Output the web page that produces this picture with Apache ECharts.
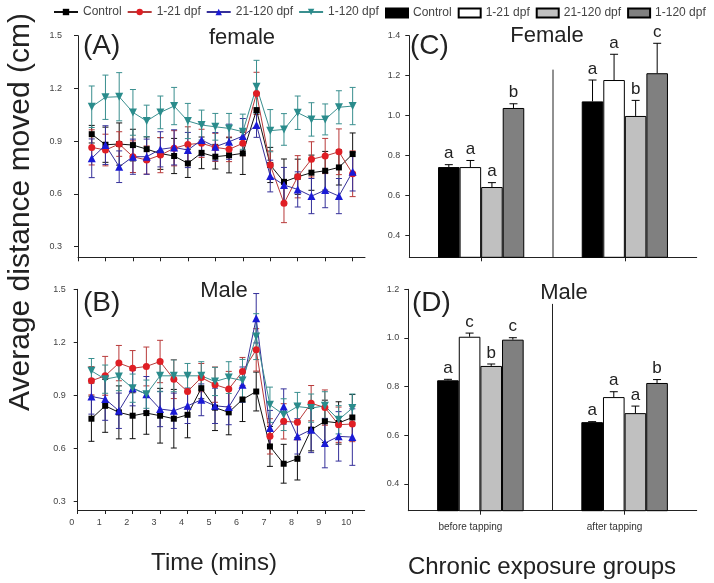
<!DOCTYPE html>
<html><head><meta charset="utf-8">
<script src="https://cdn.jsdelivr.net/npm/echarts@6/dist/echarts.min.js"></script>
<style>html,body{margin:0;padding:0;background:#fff}#c{width:714px;height:583px}</style>
</head><body><div id="c"></div>
<script>
// ---------- DATA ----------
const times = [0.5, 1, 1.5, 2, 2.5, 3, 3.5, 4, 4.5, 5, 5.5, 6, 6.5, 7, 7.5, 8, 8.5, 9, 9.5, 10];
const timeTicks = [0, 1, 2, 3, 4, 5, 6, 7, 8, 9, 10];

// Panel A (female)
const ctrlF    = [0.94, 0.88, 0.884, 0.878, 0.855, 0.83, 0.816, 0.774, 0.834, 0.812, 0.82, 0.831, 1.077, 0.765, 0.669, 0.698, 0.721, 0.732, 0.751, 0.827];
const ctrlFErr = [0.05, 0.10, 0.12, 0.09, 0.07, 0.09, 0.10, 0.08, 0.09, 0.07, 0.10, 0.12, 0.10, 0.10, 0.13, 0.10, 0.10, 0.11, 0.10, 0.12];
const redF     = [0.865, 0.85, 0.884, 0.812, 0.793, 0.821, 0.86, 0.882, 0.888, 0.865, 0.854, 0.888, 1.172, 0.765, 0.547, 0.698, 0.797, 0.816, 0.84, 0.715];
const redFErr  = [0.10, 0.09, 0.07, 0.09, 0.08, 0.10, 0.10, 0.10, 0.08, 0.08, 0.07, 0.07, 0.12, 0.08, 0.11, 0.12, 0.10, 0.10, 0.13, 0.13];
const blueF    = [0.803, 0.878, 0.755, 0.812, 0.812, 0.854, 0.865, 0.85, 0.907, 0.869, 0.897, 0.929, 0.992, 0.702, 0.651, 0.626, 0.588, 0.622, 0.588, 0.727];
const blueFErr = [0.11, 0.11, 0.09, 0.10, 0.10, 0.10, 0.10, 0.10, 0.09, 0.08, 0.10, 0.10, 0.07, 0.09, 0.10, 0.10, 0.10, 0.10, 0.10, 0.11];
const tealF    = [1.096, 1.15, 1.153, 1.064, 1.015, 1.064, 1.1, 1.015, 0.992, 0.982, 0.973, 0.954, 1.21, 0.96, 0.967, 1.062, 1.024, 1.024, 1.093, 1.1];
const tealFErr = [0.118, 0.126, 0.137, 0.13, 0.09, 0.093, 0.106, 0.10, 0.085, 0.076, 0.085, 0.10, 0.15, 0.12, 0.09, 0.095, 0.095, 0.088, 0.094, 0.106];

// Panel B (male)
const ctrlM    = [0.767, 0.84, 0.803, 0.784, 0.799, 0.784, 0.767, 0.789, 0.94, 0.83, 0.803, 0.876, 0.921, 0.61, 0.512, 0.54, 0.705, 0.752, 0.743, 0.774];
const ctrlMErr = [0.128, 0.15, 0.15, 0.13, 0.12, 0.155, 0.166, 0.13, 0.06, 0.13, 0.127, 0.125, 0.11, 0.113, 0.11, 0.12, 0.12, 0.12, 0.12, 0.13];
const redM     = [0.982, 1.01, 1.082, 1.053, 1.063, 1.091, 0.991, 0.921, 1.0, 0.96, 0.935, 1.034, 1.157, 0.667, 0.752, 0.747, 0.855, 0.83, 0.733, 0.737];
const redMErr  = [0.08, 0.11, 0.10, 0.10, 0.11, 0.12, 0.11, 0.10, 0.08, 0.10, 0.10, 0.08, 0.12, 0.10, 0.10, 0.10, 0.10, 0.10, 0.10, 0.10];
const blueM    = [0.893, 0.878, 0.812, 0.94, 0.906, 0.822, 0.812, 0.84, 0.874, 0.84, 0.833, 0.96, 1.336, 0.714, 0.836, 0.667, 0.705, 0.629, 0.667, 0.663];
const blueMErr = [0.10, 0.12, 0.10, 0.10, 0.10, 0.10, 0.10, 0.10, 0.09, 0.10, 0.10, 0.10, 0.14, 0.10, 0.10, 0.10, 0.13, 0.14, 0.14, 0.16];
const tealM    = [1.038, 0.991, 1.006, 0.94, 0.906, 1.01, 1.01, 1.01, 1.01, 0.978, 1.0, 0.983, 1.232, 0.846, 0.79, 0.836, 0.827, 0.84, 0.761, 0.827];
const tealMErr = [0.07, 0.08, 0.08, 0.08, 0.08, 0.09, 0.09, 0.07, 0.08, 0.08, 0.09, 0.12, 0.13, 0.10, 0.09, 0.08, 0.08, 0.08, 0.08, 0.08];

// Panels C/D (bars)
const periods = ['before tapping', 'after tapping'];
const groupNames = ['Control', '1-21 dpf', '21-120 dpf', '1-120 dpf'];
const femaleBefore   = [0.742, 0.742, 0.642, 1.038];
const femaleBeforeSE = [0.012, 0.033, 0.022, 0.021];
const femaleAfter    = [1.071, 1.178, 0.998, 1.212];
const femaleAfterSE  = [0.107, 0.129, 0.078, 0.150];
const femaleBeforeLetters = ['a', 'a', 'a', 'b'];
const femaleAfterLetters  = ['a', 'a', 'b', 'c'];
const maleBefore   = [0.826, 1.005, 0.885, 0.993];
const maleBeforeSE = [0.004, 0.015, 0.008, 0.008];
const maleAfter    = [0.654, 0.757, 0.691, 0.815];
const maleAfterSE  = [0.002, 0.022, 0.029, 0.014];
const maleBeforeLetters = ['a', 'c', 'b', 'c'];
const maleAfterLetters  = ['a', 'a', 'a', 'b'];

const yTicksLine = [0.3, 0.6, 0.9, 1.2, 1.5];
const yTicksC = [0.4, 0.6, 0.8, 1.0, 1.2, 1.4];
const yTicksD = [0.4, 0.6, 0.8, 1.0, 1.2];
const dividerTopC = 1.23;
const dividerTopD = 1.14;

// ---------- STYLE ----------
const FONT = 'Arial, "Liberation Sans", sans-serif';
const AX = '#222';
const yMinA = 0.24, yMinB = 0.25, yMinC = 0.29, yMinD = 0.29;

const lineGroups = [
  {name: 'Control',   symbol: 'rect',     size: 6, rot: 0,   marker: '#000000', line: '#111111', f: ctrlF, fe: ctrlFErr, m: ctrlM, me: ctrlMErr},
  {name: '1-21 dpf',  symbol: 'circle',   size: 7, rot: 0,   marker: '#e01e24', line: '#b83a3a', f: redF, fe: redFErr, m: redM, me: redMErr},
  {name: '21-120 dpf',symbol: 'triangle', size: 8, rot: 0,   marker: '#1a1ad6', line: '#35309a', f: blueF, fe: blueFErr, m: blueM, me: blueMErr},
  {name: '1-120 dpf', symbol: 'triangle', size: 8, rot: 180, marker: '#2a8c8c', line: '#3a8f8f', f: tealF, fe: tealFErr, m: tealM, me: tealMErr}
];
const barColors = ['#000000', '#ffffff', '#c0c0c0', '#808080'];

function errRender(color) {
  return function (params, api) {
    const x = api.value(0), y = api.value(1), e = api.value(2);
    const t = api.coord([x, y + e]), b = api.coord([x, y - e]);
    const cap = 3;
    const st = {stroke: color, lineWidth: 1};
    return {type: 'group', children: [
      {type: 'line', shape: {x1: t[0], y1: t[1], x2: b[0], y2: b[1]}, style: st},
      {type: 'line', shape: {x1: t[0] - cap, y1: t[1], x2: t[0] + cap, y2: t[1]}, style: st},
      {type: 'line', shape: {x1: b[0] - cap, y1: b[1], x2: b[0] + cap, y2: b[1]}, style: st}
    ]};
  };
}

const series = [];
lineGroups.forEach((g) => {
  [[0, g.f, g.fe], [1, g.m, g.me]].forEach(([p, vals, errs]) => {
    series.push({
      type: 'custom', xAxisIndex: p, yAxisIndex: p, silent: true, z: 2,
      renderItem: errRender(g.line),
      encode: {x: 0, y: 1},
      data: times.map((t, i) => [t, vals[i], errs[i]])
    });
    series.push({
      type: 'line', name: g.name, xAxisIndex: p, yAxisIndex: p, z: 3,
      symbol: g.symbol, symbolSize: g.size, symbolRotate: g.rot,
      itemStyle: {color: g.marker},
      lineStyle: {color: g.line, width: 1},
      emphasis: {disabled: true},
      data: times.map((t, i) => [t, vals[i]])
    });
  });
});

const barPanels = [
  {p: 2, before: femaleBefore, beforeSE: femaleBeforeSE, after: femaleAfter, afterSE: femaleAfterSE, lb: femaleBeforeLetters, la: femaleAfterLetters},
  {p: 3, before: maleBefore, beforeSE: maleBeforeSE, after: maleAfter, afterSE: maleAfterSE, lb: maleBeforeLetters, la: maleAfterLetters}
];
const BW = 0.15;
barPanels.forEach((bp) => {
  groupNames.forEach((gn, i) => {
    series.push({
      type: 'bar', name: 'bar:' + gn, xAxisIndex: bp.p, yAxisIndex: bp.p,
      barWidth: (BW * 100) + '%', barGap: '0%', z: 2,
      itemStyle: {color: barColors[i], borderColor: '#000', borderWidth: 1},
      emphasis: {disabled: true},
      data: [bp.before[i], bp.after[i]]
    });
    const letters = [bp.lb[i], bp.la[i]];
    series.push({
      type: 'custom', xAxisIndex: bp.p, yAxisIndex: bp.p, silent: true, z: 4,
      encode: {x: 0, y: 1},
      data: [[0, bp.before[i], bp.beforeSE[i]], [1, bp.after[i], bp.afterSE[i]]],
      renderItem: function (params, api) {
        const cat = api.value(0), v = api.value(1), se = api.value(2);
        const band = api.size([1, 0])[0];
        const c = api.coord([cat, v]);
        const t = api.coord([cat, v + se]);
        const x = c[0] + (i - 1.5) * band * BW;
        const st = {stroke: '#000', lineWidth: 1};
        return {type: 'group', children: [
          {type: 'line', shape: {x1: x, y1: c[1], x2: x, y2: t[1]}, style: st},
          {type: 'line', shape: {x1: x - 4, y1: t[1], x2: x + 4, y2: t[1]}, style: st},
          {type: 'text', x: x, y: t[1] - 11, style: {text: letters[params.dataIndex], font: '17px ' + FONT, fill: '#222', textAlign: 'center', textVerticalAlign: 'middle'}}
        ]};
      }
    });
  });
});

// divider lines between groups
[[2, dividerTopC, yMinC], [3, dividerTopD, yMinD]].forEach(([p, top, ymin]) => {
  series.push({
    type: 'custom', xAxisIndex: p, yAxisIndex: p, silent: true, z: 1,
    encode: {x: 0, y: 1},
    data: [[0, top]],
    renderItem: function (params, api) {
      const a = api.coord([0, api.value(1)]), b = api.coord([1, api.value(1)]);
      const x = (a[0] + b[0]) / 2;
      const yb = api.coord([0, ymin])[1];
      return {type: 'line', shape: {x1: x, y1: a[1], x2: x, y2: yb}, style: {stroke: '#222', lineWidth: 1}};
    }
  });
});

const grids = [
  {left: 78, top: 35.7, width: 287, height: 221.6},
  {left: 77.7, top: 289.3, width: 287, height: 220.7},
  {left: 409.3, top: 35.7, width: 287.4, height: 221.6},
  {left: 408.3, top: 289.3, width: 288.4, height: 221.4}
];

function valX(idx, showLabels) {
  return {
    type: 'value', gridIndex: idx, min: 0, max: 10.45,
    axisLine: {lineStyle: {color: AX, width: 1}},
    axisTick: {show: true, inside: false, length: 4, lineStyle: {color: AX}, customValues: timeTicks},
    axisLabel: {show: showLabels, customValues: timeTicks, fontSize: 9, color: '#444', fontFamily: FONT, margin: 8, padding: [0, 12, 0, 0]},
    splitLine: {show: false}
  };
}
function catX(idx, showLabels) {
  return {
    type: 'category', gridIndex: idx, data: periods,
    axisLine: {lineStyle: {color: AX, width: 1}},
    axisTick: {show: true, alignWithLabel: true, length: 4, lineStyle: {color: AX}},
    axisLabel: {show: showLabels, fontSize: 10, color: '#333', fontFamily: FONT, margin: 12, padding: [0, 20, 0, 0]},
    splitLine: {show: false}
  };
}
function valY(idx, min, max, ticks, margin) {
  return {
    type: 'value', gridIndex: idx, min: min, max: max,
    axisLine: {show: true, lineStyle: {color: AX, width: 1}},
    axisTick: {show: true, length: 4, lineStyle: {color: AX}, customValues: ticks},
    axisLabel: {customValues: ticks, fontSize: 9, color: '#444', fontFamily: FONT, margin: margin,
      formatter: (v) => v.toFixed(1)},
    splitLine: {show: false}
  };
}

function txt(text, x, y, size, align, rot) {
  return {type: 'text', x: x, y: y, rotation: rot || 0, silent: true,
    style: {text: text, font: size + 'px ' + FONT, fill: '#222', textAlign: align || 'center', textVerticalAlign: 'middle'}};
}

const option = {
  backgroundColor: '#fff',
  animation: false,
  grid: grids,
  xAxis: [valX(0, false), valX(1, true), catX(2, false), catX(3, true)],
  yAxis: [
    valY(0, yMinA, 1.5, yTicksLine, 16),
    valY(1, yMinB, 1.5, yTicksLine, 12),
    valY(2, yMinC, 1.4, yTicksC, 9),
    valY(3, yMinD, 1.2, yTicksD, 9)
  ],
  legend: [
    {data: groupNames, left: 53, top: 6, padding: 0, itemWidth: 24, itemHeight: 8, itemGap: 5,
      textStyle: {fontSize: 12, color: '#444', fontFamily: FONT}},
    {data: groupNames.map(n => 'bar:' + n), left: 385, top: 7, padding: 0, itemWidth: 22, itemHeight: 9, itemGap: 6,
      icon: 'rect', formatter: (n) => n.replace('bar:', ''),
      textStyle: {fontSize: 12, color: '#444', fontFamily: FONT}}
  ],
  graphic: [
    txt('Average distance moved (cm)', 21, 212, 30, 'center', Math.PI / 2),
    txt('(A)', 83, 46, 28, 'left'),
    txt('female', 242, 38, 22),
    txt('(B)', 83, 303, 28, 'left'),
    txt('Male', 224, 291, 22),
    txt('(C)', 410, 46, 28, 'left'),
    txt('Female', 547, 36, 22),
    txt('(D)', 412, 303, 28, 'left'),
    txt('Male', 564, 293, 22),
    txt('Time (mins)', 214, 563, 24),
    txt('Chronic exposure groups', 542, 567, 24)
  ],
  series: series
};

const chart = echarts.init(document.getElementById('c'), null, {renderer: 'canvas'});
chart.setOption(option);
</script></body></html>
